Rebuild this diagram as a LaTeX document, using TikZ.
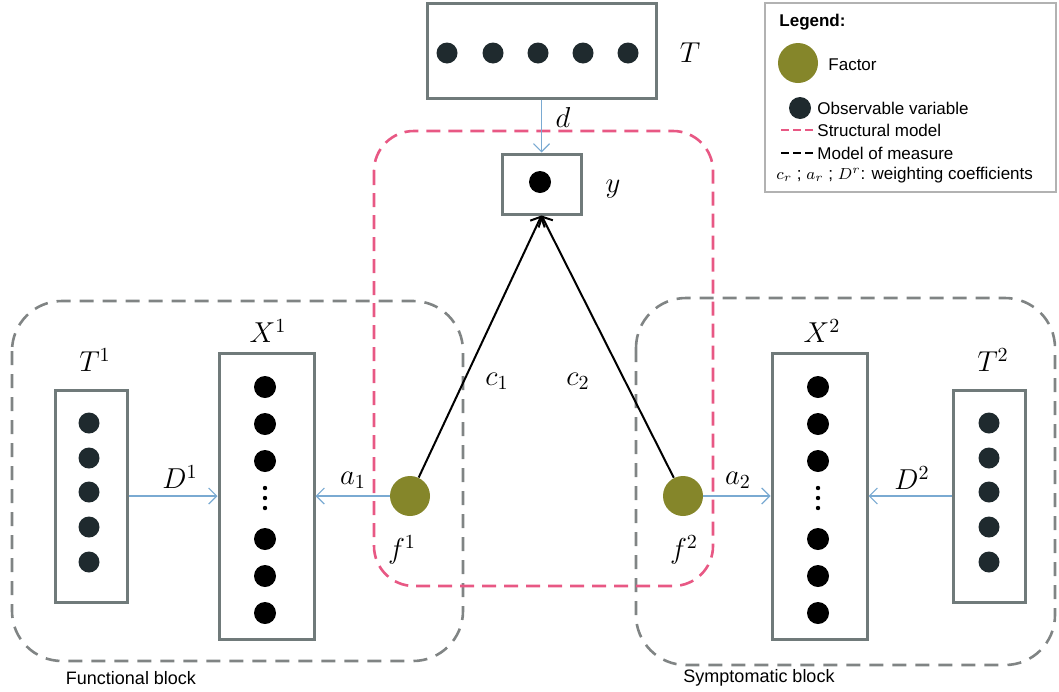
\documentclass[tikz,border=0pt]{standalone}
\usepackage{fontspec}
\setmainfont{Liberation Sans}
\usetikzlibrary{arrows.meta}

\definecolor{boxgray}{RGB}{112,122,122}
\definecolor{graydash}{RGB}{128,132,132}
\definecolor{pinkdash}{RGB}{232,88,132}
\definecolor{wblue}{RGB}{122,170,210}
\definecolor{factorolive}{RGB}{133,134,42}
\definecolor{obsdark}{RGB}{31,42,46}

\tikzset{
	box/.style={draw=boxgray, line width=1.5pt, fill=white, inner sep=0pt},
	obsdot/.style={circle, fill=obsdark, minimum size=10.5pt, inner sep=0pt},
	blkdot/.style={circle, fill=black, minimum size=11pt, inner sep=0pt},
	vdot/.style={circle, fill=black, minimum size=2.2pt, inner sep=0pt},
	factor/.style={circle, fill=factorolive, minimum size=20pt, inner sep=0pt},
	weight/.style={draw=wblue, line width=0.6pt, -{Straight Barb[length=4pt,width=8pt]}},
	loading/.style={draw=black, line width=1pt, -{Straight Barb[length=4pt,width=8pt]}},
	lab/.style={font=\Large, inner sep=1pt},
	legtext/.style={font=\fontsize{8.5}{10}\selectfont, anchor=west, inner sep=1pt},
	structural/.style={draw=pinkdash, dash pattern=on 7pt off 4pt, line width=1.3pt, rounded corners=20pt},
	measure/.style={draw=graydash, dash pattern=on 7pt off 4.5pt, line width=1.3pt, rounded corners=25pt}
}

\begin{document}
\begin{tikzpicture}[x=0.5pt, y=-0.5pt]
	\useasboundingbox (0,0) rectangle (1059,691);

	% blocks
	\draw [measure] (12,301) rectangle (463,661);
	\draw [measure] (636,298) rectangle (1055,665);
	\draw [structural] (374,131) rectangle (713,586);

	% top
	\node (T) [box, minimum width=114.5pt, minimum height=47.5pt] at (541.5,50.5) {};
	\foreach \x [count=\i] in {447,493,538,583,628}
		\node (t\i) [obsdot] at (\x,53) {};
	\node (Tlab) [lab] at (690,53) {$T$};

	\node (Y) [box, minimum width=39.5pt, minimum height=30pt] at (541.5,184) {};
	\node (ydot) [blkdot] at (540,182) {};
	\node (Ylab) [lab] at (613,189) {$y$};

	% functional block
	\node (T1) [box, minimum width=36pt, minimum height=106pt] at (91,496) {};
	\foreach \y [count=\i] in {423,458,492,527,562}
		\node (ta\i) [obsdot] at (89,\y) {};
	\node (T1lab) [lab] at (95,360) {$T^1$};

	\node (X1) [box, minimum width=47.5pt, minimum height=143pt] at (266.5,496) {};
	\foreach \y [count=\i] in {387,424,461,539,576,613}
		\node (xa\i) [blkdot] at (265,\y) {};
	\foreach \y [count=\i] in {488,498,508}
		\node (xav\i) [vdot] at (265,\y) {};
	\node (X1lab) [lab] at (268,331) {$X^1$};

	\node (f1) [factor] at (410,496) {};
	\node (f1lab) [lab] at (402,550) {$f^1$};

	% symptomatic block
	\node (X2) [box, minimum width=47.5pt, minimum height=143pt] at (819.5,496) {};
	\foreach \y [count=\i] in {387,424,461,539,576,613}
		\node (xb\i) [blkdot] at (818,\y) {};
	\foreach \y [count=\i] in {488,498,508}
		\node (xbv\i) [vdot] at (818,\y) {};
	\node (X2lab) [lab] at (822,331) {$X^2$};

	\node (T2) [box, minimum width=36pt, minimum height=106pt] at (989,496) {};
	\foreach \y [count=\i] in {423,458,492,527,562}
		\node (tb\i) [obsdot] at (989,\y) {};
	\node (T2lab) [lab] at (993,360) {$T^2$};

	\node (f2) [factor] at (683,496) {};
	\node (f2lab) [lab] at (684,550) {$f^2$};

	% connectors
	\draw [weight] (T) -- (Y);
	\node (dlab) [lab] at (563,117) {$d$};
	\draw [weight] (T1) -- (X1);
	\node (D1lab) [lab] at (180,477) {$D^1$};
	\draw [weight] (f1) -- (X1);
	\node (a1lab) [lab] at (353,480) {$a_1$};
	\draw [weight] (f2) -- (X2);
	\node (a2lab) [lab] at (738,480) {$a_2$};
	\draw [weight] (T2) -- (X2);
	\node (D2lab) [lab] at (912,478) {$D^2$};
	\draw [loading] (f1) -- (Y.south);
	\node (c1lab) [lab] at (497,381) {$c_1$};
	\draw [loading] (f2) -- (Y.south);
	\node (c2lab) [lab] at (578,381) {$c_2$};

	\node (funlab) [font=\fontsize{9}{11}\selectfont] at (131,678) {Functional block};
	\node (symlab) [font=\fontsize{9}{11}\selectfont] at (759,678) {Symptomatic block};

	% legend
	\draw [draw=black!30, line width=1.2pt] (765,3) rectangle (1056,192);
	\node (legtitle) [legtext, font=\fontsize{8.5}{10}\selectfont\bfseries] at (777,22) {Legend:};
	\node (legfactor) [factor] at (798,63) {};
	\node (legfactortxt) [legtext] at (826,65) {Factor};
	\node (legobs) [obsdot, minimum size=11pt] at (800,108) {};
	\node (legobstxt) [legtext] at (815,108) {Observable variable};
	\coordinate (ls1) at (781,130);
	\node (legstructxt) [legtext] at (815,130) {Structural model};
	\draw [draw=pinkdash, line width=1.2pt, dash pattern=on 4pt off 2pt] (ls1) -- (legstructxt.west);
	\coordinate (lm1) at (781,153);
	\node (legmeastxt) [legtext] at (815,153) {Model of measure};
	\draw [draw=black, line width=1.4pt, dash pattern=on 4pt off 2pt] (lm1) -- (legmeastxt.west);
	\node (legcoef) [legtext] at (774,175) {$c_r$ ; $a_r$ ; $D^r$: weighting coefficients};
\end{tikzpicture}
\end{document}
